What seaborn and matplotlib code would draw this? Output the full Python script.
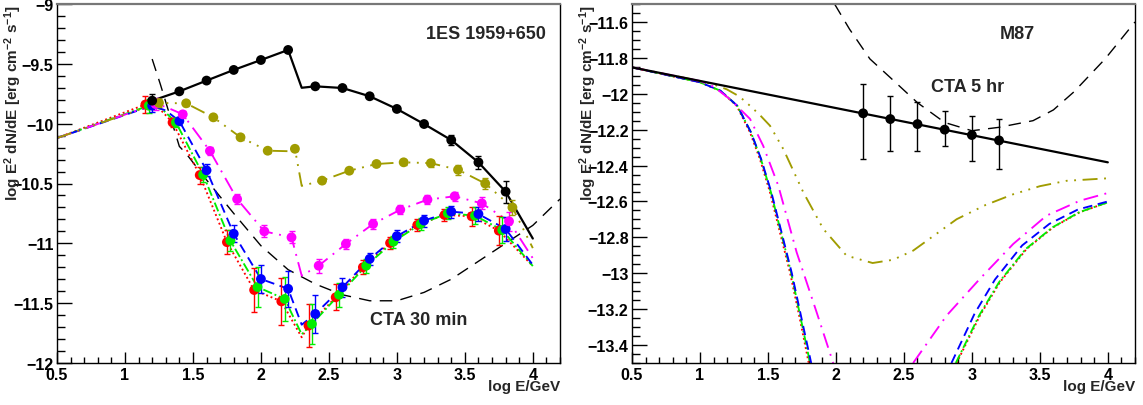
import matplotlib
matplotlib.use("Agg")
import matplotlib.pyplot as plt
from matplotlib.ticker import MultipleLocator, FixedLocator
import seaborn as sns

sns.set_theme(style="ticks")
plt.rcParams["font.family"] = ["Liberation Sans", "DejaVu Sans"]
plt.rcParams["font.weight"] = "bold"
plt.rcParams["mathtext.fontset"] = "custom"
plt.rcParams["mathtext.rm"] = "Liberation Sans:bold"
plt.rcParams["mathtext.it"] = "Liberation Sans:bold"
plt.rcParams["mathtext.bf"] = "Liberation Sans:bold"

# ---------------- left panel: 1ES 1959+650, CTA 30 min ----------------
blk_x = [1.2, 1.4, 1.6, 1.8, 2.0, 2.2, 2.4, 2.6, 2.8, 3.0, 3.2, 3.4, 3.6, 3.8]
blk_y = [-9.808, -9.73, -9.64, -9.551, -9.468, -9.384, -9.688, -9.702, -9.771,
         -9.877, -10.003, -10.137, -10.323, -10.568]
blk_err = [0.055, 0.01, 0.01, 0.01, 0.01, 0.01, 0.01, 0.01, 0.01, 0.01, 0.015,
           0.04, 0.055, 0.093]
blk_line_x = [1.2, 1.4, 1.6, 1.8, 2.0, 2.2, 2.3, 2.4, 2.6, 2.8, 3.0, 3.2, 3.4, 3.6, 3.8, 4.0]
blk_line_y = [-9.808, -9.73, -9.64, -9.551, -9.468, -9.384, -9.70, -9.688, -9.702,
              -9.771, -9.877, -10.003, -10.137, -10.323, -10.568, -10.96]

sens30_x = [1.2, 1.26, 1.4, 1.45, 1.6, 1.8, 2.0, 2.2, 2.4, 2.6, 2.8, 3.0, 3.2,
            3.4, 3.6, 3.8, 4.0, 4.2]
sens30_y = [-9.46, -9.67, -10.19, -10.25, -10.47, -10.75, -11.02, -11.22, -11.34,
            -11.43, -11.48, -11.48, -11.41, -11.30, -11.15, -11.00, -10.85, -10.63]

red_x = [1.15, 1.35, 1.55, 1.75, 1.95, 2.15, 2.35, 2.55, 2.75, 2.95, 3.15, 3.35, 3.55, 3.75]
red_y = [-9.84, -9.99, -10.43, -10.99, -11.39, -11.485, -11.688, -11.451, -11.20,
         -10.997, -10.847, -10.763, -10.774, -10.894]
red_err = [0.07, 0.04, 0.07, 0.10, 0.18, 0.195, 0.18, 0.11, 0.06, 0.05, 0.05, 0.05, 0.077, 0.12]
red_line_x = [0.5, 1.15, 1.25, 1.35, 1.55, 1.75, 1.95, 2.15, 2.3, 2.35, 2.55, 2.75,
              2.95, 3.15, 3.35, 3.55, 3.75, 4.0]
red_line_y = [-10.12, -9.84, -9.87, -9.99, -10.43, -10.99, -11.39, -11.485, -11.785,
              -11.688, -11.451, -11.20, -10.997, -10.847, -10.763, -10.774, -10.894, -11.19]

grn_x = [1.175, 1.375, 1.575, 1.775, 1.975, 2.175, 2.375, 2.575, 2.775, 2.975, 3.175,
         3.375, 3.575, 3.775]
grn_y = [-9.85, -9.99, -10.426, -10.978, -11.365, -11.465, -11.674, -11.43, -11.187,
         -10.986, -10.838, -10.749, -10.769, -10.889]
grn_err = [0.06, 0.04, 0.06, 0.09, 0.17, 0.18, 0.17, 0.10, 0.06, 0.05, 0.05, 0.05, 0.07, 0.11]
grn_line_x = [0.5, 1.175, 1.275, 1.375, 1.575, 1.775, 1.975, 2.175, 2.3, 2.375, 2.575,
              2.775, 2.975, 3.175, 3.375, 3.575, 3.775, 4.0]
grn_line_y = [-10.12, -9.85, -9.88, -9.99, -10.426, -10.978, -11.365, -11.465, -11.76,
              -11.674, -11.43, -11.187, -10.986, -10.838, -10.749, -10.769, -10.889, -11.19]

blu_x = [1.2, 1.4, 1.6, 1.8, 2.0, 2.2, 2.4, 2.6, 2.8, 3.0, 3.2, 3.4, 3.6, 3.8]
blu_y = [-9.85, -9.978, -10.39, -10.92, -11.298, -11.38, -11.59, -11.367, -11.13,
         -10.94, -10.81, -10.735, -10.755, -10.88]
blu_err = [0.05, 0.03, 0.05, 0.07, 0.12, 0.15, 0.16, 0.08, 0.05, 0.05, 0.05, 0.05, 0.06, 0.10]
blu_line_x = [0.5, 1.2, 1.3, 1.4, 1.6, 1.8, 2.0, 2.2, 2.3, 2.4, 2.6, 2.8, 3.0, 3.2,
              3.4, 3.6, 3.8, 4.0]
blu_line_y = [-10.12, -9.85, -9.89, -9.978, -10.39, -10.92, -11.298, -11.38, -11.68,
              -11.59, -11.367, -11.13, -10.94, -10.81, -10.735, -10.755, -10.88, -11.18]

mag_x = [1.225, 1.425, 1.625, 1.825, 2.025, 2.225, 2.425, 2.625, 2.825, 3.025, 3.225,
         3.425, 3.625, 3.825]
mag_y = [-9.836, -9.922, -10.228, -10.63, -10.90, -10.95, -11.187, -11.005, -10.838,
         -10.719, -10.635, -10.607, -10.666, -10.816]
mag_err = [0.05, 0.03, 0.03, 0.04, 0.05, 0.05, 0.06, 0.04, 0.04, 0.04, 0.04, 0.04, 0.05, 0.08]
mag_line_x = [0.5, 1.225, 1.3, 1.425, 1.625, 1.825, 2.025, 2.225, 2.3, 2.425, 2.625,
              2.825, 3.025, 3.225, 3.425, 3.625, 3.825, 4.0]
mag_line_y = [-10.12, -9.836, -9.86, -9.922, -10.228, -10.63, -10.90, -10.95, -11.27,
              -11.187, -11.005, -10.838, -10.719, -10.635, -10.607, -10.666, -10.816, -11.125]

olv_x = [1.25, 1.45, 1.65, 1.85, 2.05, 2.25, 2.45, 2.65, 2.85, 3.05, 3.25, 3.45, 3.65, 3.85]
olv_y = [-9.827, -9.83, -9.947, -10.114, -10.226, -10.21, -10.476, -10.393, -10.337,
         -10.323, -10.33, -10.385, -10.5, -10.7]
olv_err = [0.03, 0.02, 0.02, 0.02, 0.02, 0.02, 0.02, 0.02, 0.02, 0.02, 0.03, 0.04, 0.05, 0.06]
olv_line_x = [0.5, 1.25, 1.45, 1.65, 1.85, 2.05, 2.2, 2.25, 2.3, 2.45, 2.65, 2.85,
              3.05, 3.25, 3.45, 3.65, 3.85, 4.0]
olv_line_y = [-10.12, -9.827, -9.83, -9.947, -10.114, -10.226, -10.23, -10.21, -10.52,
              -10.476, -10.393, -10.337, -10.323, -10.33, -10.385, -10.5, -10.7, -11.04]

# ---------------- right panel: M87, CTA 5 hr ----------------
m87_line_x = [0.5, 4.0]
m87_line_y = [-11.853, -12.382]
m87_x = [2.2, 2.4, 2.6, 2.8, 3.0, 3.2]
m87_y = [-12.109, -12.141, -12.169, -12.2, -12.23, -12.26]
m87_err_lo = [0.254, 0.176, 0.148, 0.093, 0.143, 0.159]
m87_err_hi = [0.163, 0.13, 0.121, 0.106, 0.108, 0.119]

sens5_x = [1.99, 2.1, 2.25, 2.4, 2.6, 2.8, 3.0, 3.2, 3.45, 3.6, 3.75, 3.98, 4.2]
sens5_y = [-11.5, -11.64, -11.806, -11.91, -12.05, -12.16, -12.206, -12.187, -12.15,
           -12.09, -11.99, -11.806, -11.6]

r_red_dn_x = [0.5, 1.0, 1.147, 1.27, 1.368, 1.441, 1.515, 1.588, 1.662, 1.735, 1.80]
r_red_dn_y = [-11.853, -11.936, -11.983, -12.067, -12.215, -12.364, -12.549, -12.772,
              -12.995, -13.255, -13.5]
r_red_up_x = [2.888, 3.059, 3.206, 3.402, 3.598, 3.794, 4.0]
r_red_up_y = [-13.5, -13.236, -13.05, -12.865, -12.744, -12.66, -12.605]

r_grn_dn_x = [0.5, 1.0, 1.15, 1.275, 1.375, 1.448, 1.522, 1.596, 1.67, 1.742, 1.81]
r_grn_dn_y = [-11.853, -11.936, -11.983, -12.067, -12.215, -12.364, -12.549, -12.772,
              -12.995, -13.255, -13.5]
r_grn_up_x = [2.882, 3.053, 3.2, 3.396, 3.594, 3.79, 4.0]
r_grn_up_y = [-13.5, -13.236, -13.05, -12.865, -12.744, -12.66, -12.605]

r_blu_dn_x = [0.5, 1.0, 1.15, 1.275, 1.375, 1.45, 1.525, 1.6, 1.674, 1.748, 1.818]
r_blu_dn_y = [-11.853, -11.936, -11.983, -12.067, -12.215, -12.364, -12.549, -12.772,
              -12.995, -13.255, -13.5]
r_blu_up_x = [2.85, 3.02, 3.17, 3.37, 3.57, 3.78, 4.0]
r_blu_up_y = [-13.5, -13.225, -13.035, -12.845, -12.725, -12.645, -12.6]

r_mag_dn_x = [0.5, 1.0, 1.1, 1.22, 1.368, 1.465, 1.576, 1.711, 1.858, 1.98]
r_mag_dn_y = [-11.853, -11.929, -11.96, -12.03, -12.14, -12.29, -12.512, -12.883,
              -13.217, -13.5]
r_mag_up_x = [2.568, 2.814, 3.059, 3.304, 3.549, 3.794, 4.0]
r_mag_up_y = [-13.5, -13.236, -13.031, -12.837, -12.679, -12.596, -12.553]

r_olv_x = [0.5, 1.0, 1.1, 1.196, 1.29, 1.368, 1.44, 1.515, 1.613, 1.76, 1.907, 2.078,
           2.27, 2.42, 2.568, 2.888, 3.1, 3.304, 3.5, 3.696, 4.0]
r_olv_y = [-11.853, -11.929, -11.948, -11.975, -12.015, -12.067, -12.118, -12.178,
           -12.308, -12.549, -12.753, -12.902, -12.943, -12.925, -12.874, -12.699,
           -12.62, -12.56, -12.515, -12.485, -12.471]

x_ticks = [0.5, 1, 1.5, 2, 2.5, 3, 3.5, 4]
x_tick_labels = ["0.5", "1", "1.5", "2", "2.5", "3", "3.5", "4"]
left_y_ticks = [-12, -11.5, -11, -10.5, -10, -9.5, -9]
left_y_labels = ["\u221212", "\u221211.5", "\u221211", "\u221210.5", "\u221210",
                 "\u22129.5", "\u22129"]
right_y_ticks = [-13.4, -13.2, -13, -12.8, -12.6, -12.4, -12.2, -12, -11.8, -11.6]
right_y_labels = ["\u221213.4", "\u221213.2", "\u221213", "\u221212.8", "\u221212.6",
                  "\u221212.4", "\u221212.2", "\u221212", "\u221211.8", "\u221211.6"]

RED, GRN, BLU, MAG, OLV = "#ff0000", "#00ee00", "#0000ff", "#ff00ff", "#a09c00"
ls_red = (0, (1, 1.5))
ls_grn = (0, (5, 1.5, 1, 1.5))
ls_blu = (0, (5, 3))
ls_mag = (0, (8, 3.5, 1, 3.5))
ls_olv = (0, (8, 3.5, 1, 3.5, 1, 3.5, 1, 3.5))

ylab = "log E$^{2}$ dN/dE [erg cm$^{-2}$ s$^{-1}$]"

fig = plt.figure(figsize=(11.43, 4.06), dpi=100)
fig.patch.set_facecolor("white")
ax1 = fig.add_axes([57 / 1143, 42 / 406, 503 / 1143, 359 / 406])
ax2 = fig.add_axes([632 / 1143, 42 / 406, 503 / 1143, 359 / 406])


def line(ax, x, y, color, ls, lw=1.35, z=2):
    sns.lineplot(x=x, y=y, ax=ax, color=color, linestyle=ls, linewidth=lw,
                 sort=False, estimator=None, zorder=z)


def points(ax, x, y, err, color, z=3):
    ax.errorbar(x, y, yerr=err, fmt="none", ecolor=color, elinewidth=1,
                capsize=2, capthick=1, zorder=z)
    sns.scatterplot(x=x, y=y, ax=ax, color=color, s=50, edgecolor="none",
                    linewidth=0, zorder=z + 0.1)


# left panel
line(ax1, sens30_x, sens30_y, "black", (0, (9, 6)), lw=1.0)
for lx, ly, c, ls in [(red_line_x, red_line_y, RED, ls_red),
                      (grn_line_x, grn_line_y, GRN, ls_grn),
                      (blu_line_x, blu_line_y, BLU, ls_blu),
                      (mag_line_x, mag_line_y, MAG, ls_mag),
                      (olv_line_x, olv_line_y, OLV, ls_olv)]:
    line(ax1, lx, ly, c, ls)
line(ax1, blk_line_x, blk_line_y, "black", "-", lw=1.6)
for px, py, pe, c in [(red_x, red_y, red_err, RED), (grn_x, grn_y, grn_err, GRN),
                      (blu_x, blu_y, blu_err, BLU), (mag_x, mag_y, mag_err, MAG),
                      (olv_x, olv_y, olv_err, OLV), (blk_x, blk_y, blk_err, "black")]:
    points(ax1, px, py, pe, c)

ax1.text(3.654, -9.246, "1ES 1959+650", ha="center", va="center", fontsize=13,
         fontweight="bold")
ax1.text(3.16, -11.636, "CTA 30 min", ha="center", va="center", fontsize=13,
         fontweight="bold")

# right panel
line(ax2, sens5_x, sens5_y, "black", (0, (9, 6)), lw=1.0)
line(ax2, r_olv_x, r_olv_y, OLV, ls_olv)
for dx, dy, ux, uy, c, ls in [
        (r_red_dn_x, r_red_dn_y, r_red_up_x, r_red_up_y, RED, ls_red),
        (r_grn_dn_x, r_grn_dn_y, r_grn_up_x, r_grn_up_y, GRN, ls_grn),
        (r_blu_dn_x, r_blu_dn_y, r_blu_up_x, r_blu_up_y, BLU, ls_blu),
        (r_mag_dn_x, r_mag_dn_y, r_mag_up_x, r_mag_up_y, MAG, ls_mag)]:
    line(ax2, dx, dy, c, ls)
    line(ax2, ux, uy, c, ls)
line(ax2, m87_line_x, m87_line_y, "black", "-", lw=1.6)
points(ax2, m87_x, m87_y, [m87_err_lo, m87_err_hi], "black")

ax2.text(3.331, -11.667, "M87", ha="center", va="center", fontsize=13, fontweight="bold")
ax2.text(2.97, -11.962, "CTA 5 hr", ha="center", va="center", fontsize=13,
         fontweight="bold")

# axes styling
for ax, yt, yl, ylim, ymin in [(ax1, left_y_ticks, left_y_labels, (-12, -9), 0.1),
                               (ax2, right_y_ticks, right_y_labels, (-13.5, -11.5), 0.05)]:
    ax.set_xlim(0.5, 4.2)
    ax.set_ylim(*ylim)
    ax.xaxis.set_major_locator(FixedLocator(x_ticks))
    ax.set_xticklabels(x_tick_labels)
    ax.xaxis.set_minor_locator(MultipleLocator(0.1))
    ax.yaxis.set_major_locator(FixedLocator(yt))
    ax.set_yticklabels(yl)
    ax.yaxis.set_minor_locator(MultipleLocator(ymin))
    ax.tick_params(axis="both", which="both", direction="in", top=False, right=False,
                   colors="black", labelsize=11.5, width=1)
    ax.tick_params(axis="y", which="major", length=11, pad=2.5)
    ax.tick_params(axis="y", which="minor", length=5.5)
    ax.tick_params(axis="x", which="major", length=8, pad=3)
    ax.tick_params(axis="x", which="minor", length=4)
    for lab in ax.get_xticklabels() + ax.get_yticklabels():
        lab.set_fontweight("bold")
    for s in ax.spines.values():
        s.set_color("black")
        s.set_linewidth(1)
    ax.spines["top"].set_color("#777777")
    ax.spines["top"].set_linewidth(1.6)
    ax.set_facecolor("white")
    ax.set_xlabel("log E/GeV", loc="right", fontsize=11, fontweight="bold")
    ax.xaxis.set_label_coords(1.0, -0.045)
    ax.set_ylabel(ylab, loc="top", fontsize=11, fontweight="bold")
    ax.yaxis.set_label_coords(-0.066, 1.0)

fig.savefig("out.png", dpi=100, facecolor="white")
